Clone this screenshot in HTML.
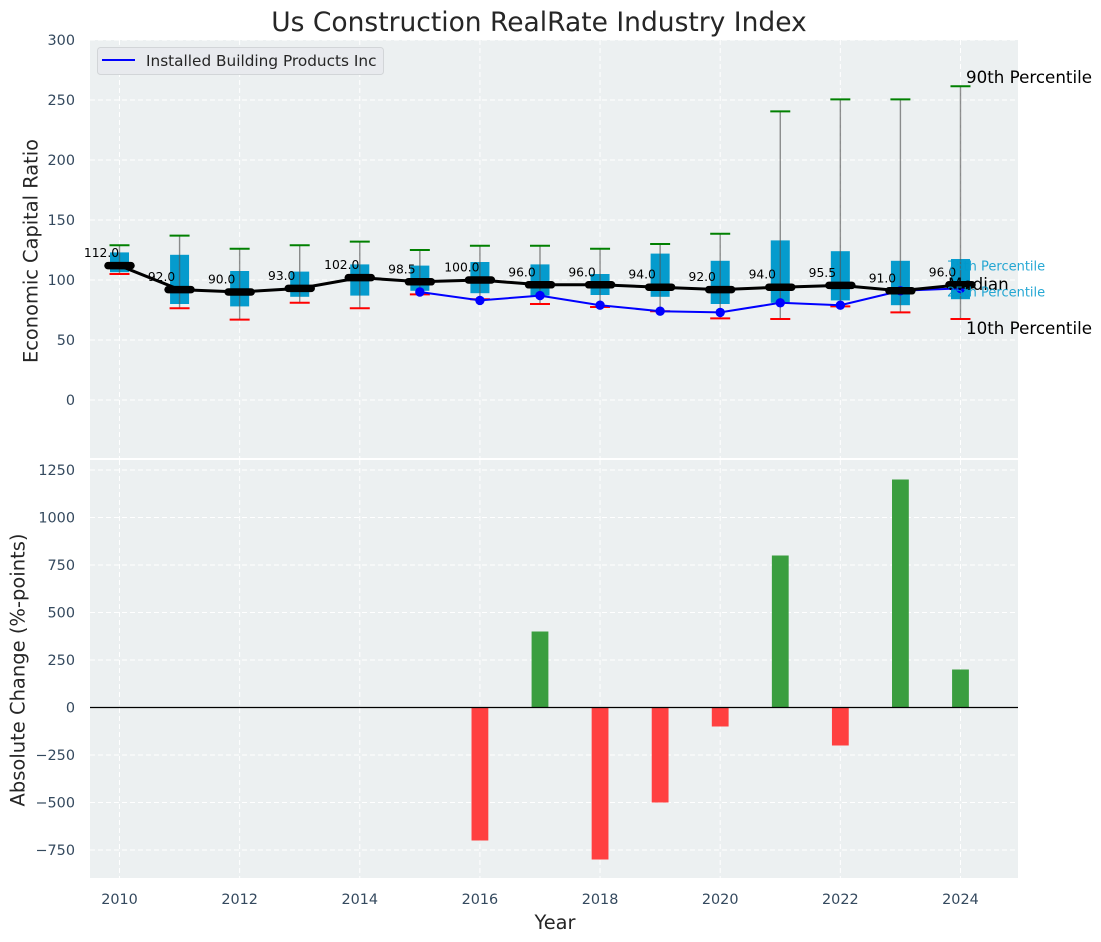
<!DOCTYPE html>
<html>
<head>
<meta charset="utf-8">
<style>
html,body{margin:0;padding:0;background:#fff;width:1101px;height:942px;overflow:hidden}
svg{display:block;font-family:"DejaVu Sans","Liberation Sans",sans-serif}
</style>
</head>
<body>
<svg id="chart" xmlns="http://www.w3.org/2000/svg" width="1101" height="942" viewBox="0 0 1101 942">
  <rect x="90" y="40" width="928" height="418" fill="#ecf0f1"/>
  <rect x="90" y="460" width="928" height="418" fill="#ecf0f1"/>
  <g id="grid"></g>
  <g id="ticks"></g>
  <g id="boxes"></g>
  <g id="bars"></g>
  <g id="lines"></g>
  <g id="labels"></g>
  <text x="539" y="31" font-size="26.5px" fill="#262626" text-anchor="middle">Us Construction RealRate Industry Index</text>
  <text transform="translate(37.5,251) rotate(-90)" font-size="19.4px" fill="#262626" text-anchor="middle">Economic Capital Ratio</text>
  <text transform="translate(24.5,670) rotate(-90)" font-size="19.5px" fill="#262626" text-anchor="middle">Absolute Change (%-points)</text>
  <text x="555" y="929" font-size="19.4px" fill="#262626" text-anchor="middle">Year</text>
  <text x="966" y="83" font-size="16.7px" fill="#000">90th Percentile</text>
  <text x="947" y="270.500" font-size="13px" fill="#0099cc" fill-opacity="0.85">75th Percentile</text>
  <text x="948" y="290" font-size="16.7px" fill="#000">Median</text>
  <text x="947" y="296.500" font-size="13px" fill="#0099cc" fill-opacity="0.85">25th Percentile</text>
  <text x="966" y="334" font-size="16.7px" fill="#000">10th Percentile</text>
  <g>
    <rect x="97.500" y="47.500" width="286" height="27" rx="3" fill="#e8eaee" stroke="#d2d5d8"/>
    <line x1="102" x2="135" y1="60" y2="60" stroke="#0000ff" stroke-width="2"/>
    <text x="146" y="66" font-size="15.3px" fill="#262626">Installed Building Products Inc</text>
  </g>
</svg>
<script>
var years = [2010,2011,2012,2013,2014,2015,2016,2017,2018,2019,2020,2021,2022,2023,2024];
var medians = [112,92,90,93,102,98.5,100,96,96,94,92,94,95.5,91,96];
var p90 = [129,137,126,129,132,125,128.5,128.5,126,130,138.5,240.5,250.5,250.5,261.5];
var p75 = [123,121,107.5,107,113,112,115,113,105,122,116,133,124,116,117.5];
var p25 = [106.5,80,78,86,87,91,89,87,87.5,86,80,81,83,79,84];
var p10 = [105,76.5,67,81,76.5,88,84,80,77.5,74,68,67.5,78,73,67.5];
var companyYears = [2015,2016,2017,2018,2019,2020,2021,2022,2023,2024];
var companyValues = [90,83,87,79,74,73,81,79,91,93];
var changeYears = [2016,2017,2018,2019,2020,2021,2022,2023,2024];
var changeValues = [-700,400,-800,-500,-100,800,-200,1200,200];
var medianLabels = ['112.0','92.0','90.0','93.0','102.0','98.5','100.0','96.0','96.0','94.0','92.0','94.0','95.5','91.0','96.0'];
var xTicks = [2010,2012,2014,2016,2018,2020,2022,2024];
var topTicks = [300,250,200,150,100,50,0];
var bottomTicks = [1250,1000,750,500,250,0,-250,-500,-750];

var NS = 'http://www.w3.org/2000/svg';
function xAxis(v){ return 119.5 + (v - 2010) * 60.07; }
function yTop(v){ return 400 - v * 1.2; }
function yBottom(v){ return 707.5 - v * 0.19; }
function make(tag, parent, props){
  var el = document.createElementNS(NS, tag);
  for (var k in props) { el.setAttribute(k, props[k]); }
  document.getElementById(parent).appendChild(el);
  return el;
}
var el, i;

/* grid */
xTicks.forEach(function(t){
  el = make('line','grid',{x1:xAxis(t),x2:xAxis(t),y1:40,y2:458,stroke:'#fff','stroke-width':1,'stroke-dasharray':'5 3'});
  
  
  el = make('line','grid',{x1:xAxis(t),x2:xAxis(t),y1:460,y2:878,stroke:'#fff','stroke-width':1,'stroke-dasharray':'5 3'});
  
  
  el = make('text','ticks',{x:xAxis(t),y:904,'font-size':'14.4px',fill:'#34495e','text-anchor':'middle'});
  
  
  el.textContent = t;
});
topTicks.forEach(function(t){
  el = make('line','grid',{x1:90,x2:1018,y1:yTop(t),y2:yTop(t),stroke:'#fff','stroke-width':1,'stroke-dasharray':'5 3'});
  
  
  el = make('text','ticks',{x:75,y:yTop(t)+5,'font-size':'14.4px',fill:'#34495e','text-anchor':'end'});
  
  
  el.textContent = t;
});
bottomTicks.forEach(function(t){
  el = make('line','grid',{x1:90,x2:1018,y1:yBottom(t),y2:yBottom(t),stroke:'#fff','stroke-width':1,'stroke-dasharray':'5 3'});
  
  
  el = make('text','ticks',{x:75,y:yBottom(t)+5,'font-size':'14.4px',fill:'#34495e','text-anchor':'end'});
  
  
  el.textContent = String(t).replace('-', '\u2212');
});

/* percentile boxes, whiskers and caps */
for (i = 0; i < years.length; i++) {
  var cx = xAxis(years[i]);
  el = make('rect','boxes',{x:cx-9.5,y:yTop(p75[i]),width:19,height:yTop(p25[i])-yTop(p75[i]),fill:'#0099cc','fill-opacity':0.98});
  
  
  el = make('line','boxes',{x1:cx,x2:cx,y1:yTop(p90[i]),y2:yTop(p10[i]),stroke:'#555','stroke-opacity':0.65,'stroke-width':1.4});
  
  
  el = make('line','boxes',{x1:cx-10,x2:cx+10,y1:yTop(p90[i]),y2:yTop(p90[i]),stroke:'#008000','stroke-width':2});
  
  
  el = make('line','boxes',{x1:cx-10,x2:cx+10,y1:yTop(p10[i]),y2:yTop(p10[i]),stroke:'#ff0000','stroke-width':2});
  
  
}

/* change bars */
for (i = 0; i < changeYears.length; i++) {
  var v = changeValues[i];
  el = make('rect','bars',{x:xAxis(changeYears[i])-8.4,y:Math.min(yBottom(v),yBottom(0)),width:16.8,height:Math.abs(yBottom(v)-yBottom(0)),fill:v<0?'#ff4040':'#3a9e3f'});
  
  
}
el = make('line','bars',{x1:90,x2:1018,y1:yBottom(0),y2:yBottom(0),stroke:'#000','stroke-width':1.2});



/* company line */
el = make('polyline','lines',{points:companyYears.map(function(y,j){return xAxis(y)+','+yTop(companyValues[j]);}).join(' '),fill:'none',stroke:'#0000ff','stroke-width':2});


for (i = 0; i < companyYears.length; i++) {
  el = make('circle','lines',{cx:xAxis(companyYears[i]),cy:yTop(companyValues[i]),r:4.7,fill:'#0000ff'});
  
  
}

/* median line */
el = make('polyline','lines',{points:years.map(function(y,j){return xAxis(y)+','+yTop(medians[j]);}).join(' '),fill:'none',stroke:'#000','stroke-width':3});


for (i = 0; i < years.length; i++) {
  el = make('line','lines',{x1:xAxis(years[i])-11.5,x2:xAxis(years[i])+11.5,y1:yTop(medians[i]),y2:yTop(medians[i]),stroke:'#000','stroke-width':7.5,'stroke-linecap':'round'});
  
  
  el = make('text','labels',{x:xAxis(years[i])-18,y:yTop(medians[i])-8.5,'font-size':'12.3px',fill:'#000','text-anchor':'middle'});
  
  
  el.textContent = medianLabels[i];
}
</script>
</body>
</html>
